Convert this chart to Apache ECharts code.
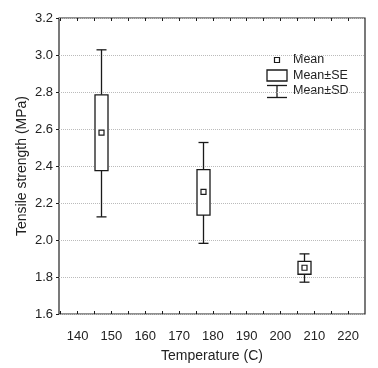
<!DOCTYPE html>
<html><head><meta charset="utf-8">
<script src="https://cdn.jsdelivr.net/npm/echarts@6/dist/echarts.min.js"></script>
<style>html,body{margin:0;padding:0;background:#fff}#c{width:378px;height:368px}</style>
</head><body><div id="c"></div>
<script>
const temperatures = [147, 177, 207];
const means  = [2.58, 2.26, 1.85];
const seLow  = [2.375, 2.135, 1.815];
const seHigh = [2.785, 2.38, 1.885];
const sdLow  = [2.125, 1.982, 1.772];
const sdHigh = [3.028, 2.527, 1.925];
const xLabels = [140,150,160,170,180,190,200,210,220];
const xTicks = [135,140,145,150,155,160,165,170,175,180,185,190,195,200,205,210,215,220];
const legendNames = ['Mean','Mean±SE','Mean±SD'];

const chart = echarts.init(document.getElementById('c'), null, {renderer:'canvas'});
const font = 'Liberation Sans, Arial, sans-serif';
const ink = '#1a1a1a';
const data = temperatures.map((t,i)=>[t, means[i], seLow[i], seHigh[i], sdLow[i], sdHigh[i]]);

function renderItem(params, api){
  const x = api.value(0);
  const pm = api.coord([x, api.value(1)]);
  const pseL = api.coord([x, api.value(2)]);
  const pseH = api.coord([x, api.value(3)]);
  const psdL = api.coord([x, api.value(4)]);
  const psdH = api.coord([x, api.value(5)]);
  const cx = Math.round(pm[0]) + 0.5;
  const bw = 13, cw = 10, ms = 5;
  const st = {stroke: ink, lineWidth: 1.3, fill: null};
  return {type:'group', children:[
    {type:'line', shape:{x1:cx, y1:psdH[1], x2:cx, y2:pseH[1]}, style:st},
    {type:'line', shape:{x1:cx, y1:pseL[1], x2:cx, y2:psdL[1]}, style:st},
    {type:'line', shape:{x1:cx-cw/2, y1:psdH[1], x2:cx+cw/2, y2:psdH[1]}, style:st},
    {type:'line', shape:{x1:cx-cw/2, y1:psdL[1], x2:cx+cw/2, y2:psdL[1]}, style:st},
    {type:'rect', shape:{x:cx-bw/2, y:pseH[1], width:bw, height:pseL[1]-pseH[1]}, style:{stroke:ink, lineWidth:1.3, fill:'#fff'}},
    {type:'rect', shape:{x:cx-ms/2, y:pm[1]-ms/2, width:ms, height:ms}, style:{stroke:ink, lineWidth:1.2, fill:'#fff'}}
  ]};
}

const xCommon = {
  type:'value', min:134.5, max:225,
  axisLine:{show:false},
  splitLine:{show:false},
  axisTick:{show:true, inside:true, length:3, customValues:xTicks, lineStyle:{color:ink}},
};

const lx = 267, ly = 60;
chart.setOption({
  animation:false,
  backgroundColor:'#fff',
  grid:{left:59, right:13, top:18, bottom:45, show:true, borderColor:'#222', borderWidth:1.2, backgroundColor:'transparent'},
  xAxis:[
    Object.assign({}, xCommon, {
      position:'bottom',
      name:'Temperature (C)', nameLocation:'middle', nameGap:35, nameMoveOverlap:false,
      nameTextStyle:{fontFamily:font, fontSize:14, color:'#222'},
      axisLabel:{customValues:xLabels, margin:16, fontFamily:font, fontSize:13, color:'#222'}
    }),
    Object.assign({}, xCommon, {position:'top', axisLabel:{show:false}})
  ],
  yAxis:[{
    type:'value', min:1.6, max:3.2, interval:0.2,
    name:'Tensile strength (MPa)', nameLocation:'middle', nameGap:30, nameMoveOverlap:false,
    nameTextStyle:{fontFamily:font, fontSize:14, color:'#222'},
    axisLine:{show:false},
    axisTick:{show:true, inside:false, length:3, lineStyle:{color:ink}},
    axisLabel:{margin:6, fontFamily:font, fontSize:13, color:'#222', formatter:v=>v.toFixed(1)},
    splitLine:{show:true, lineStyle:{color:'#bbb', type:[1,1], width:1}}
  }],
  series:[{type:'custom', renderItem:renderItem, data:data, clip:false,
    encode:{x:0, y:[1,2,3,4,5]}}],
  graphic:[
    {type:'rect', shape:{x:lx+7.5, y:ly-2.5, width:5, height:5}, style:{stroke:ink, lineWidth:1.2, fill:'#fff'}},
    {type:'rect', shape:{x:lx, y:70, width:20, height:11}, style:{stroke:ink, lineWidth:1.3, fill:'#fff'}},
    {type:'line', shape:{x1:lx, y1:85.5, x2:lx+20, y2:85.5}, style:{stroke:ink, lineWidth:1.3}},
    {type:'line', shape:{x1:lx, y1:97.5, x2:lx+20, y2:97.5}, style:{stroke:ink, lineWidth:1.3}},
    {type:'line', shape:{x1:lx+10, y1:85.5, x2:lx+10, y2:97.5}, style:{stroke:ink, lineWidth:1.3}},
    {type:'text', x:293, y:60, style:{text:legendNames[0], fontFamily:font, fontSize:12.5, fill:'#222', verticalAlign:'middle'}},
    {type:'text', x:293, y:76, style:{text:legendNames[1], fontFamily:font, fontSize:12.5, fill:'#222', verticalAlign:'middle'}},
    {type:'text', x:293, y:91, style:{text:legendNames[2], fontFamily:font, fontSize:12.5, fill:'#222', verticalAlign:'middle'}}
  ]
});
</script></body></html>
